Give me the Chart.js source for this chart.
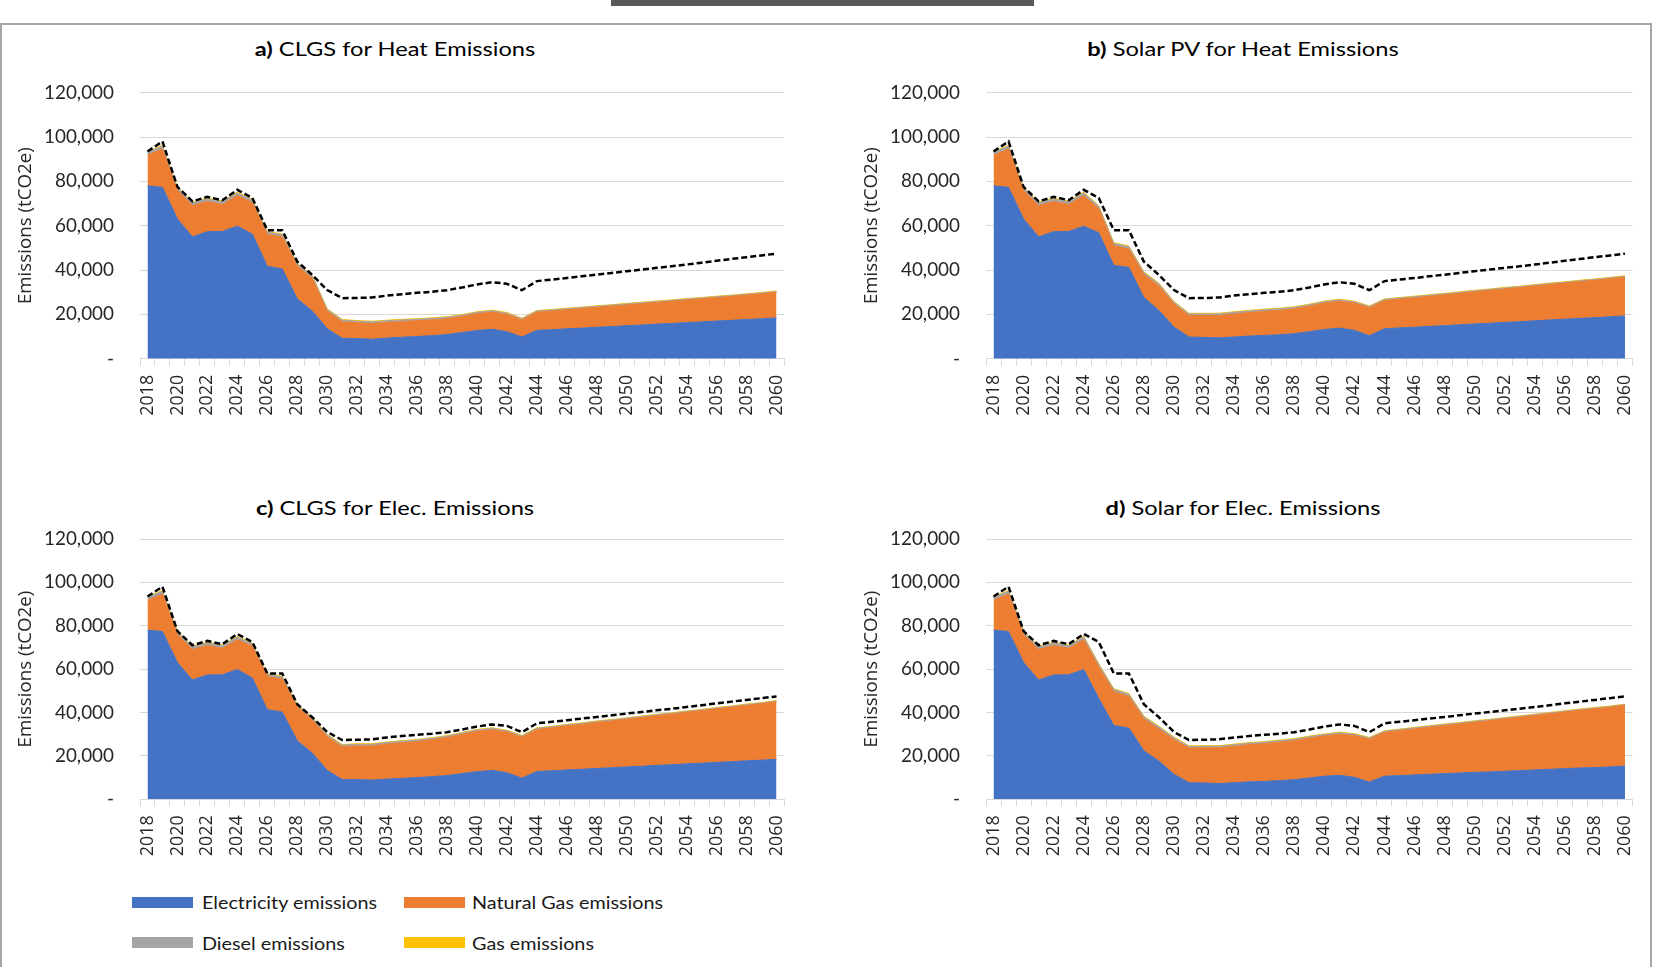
<!DOCTYPE html>
<html><head><meta charset="utf-8">
<script src="https://cdn.jsdelivr.net/npm/chart.js@4.4.1/dist/chart.umd.min.js"></script>
<style>
html,body{margin:0;padding:0;background:#fff;}
#page{position:relative;width:1658px;height:967px;overflow:hidden;background:#fff;}
#topbar{position:absolute;left:611px;top:0;width:423px;height:6px;background:#595959;}
#frame{position:absolute;left:0;top:23px;width:1648px;height:960px;border:2px solid #a6a6a6;border-bottom:none;}
canvas{position:absolute;}
.ttl{position:absolute;font-family:Lato,'Liberation Sans',sans-serif;font-size:19.5px;line-height:1;white-space:nowrap;color:#000;transform-origin:50% 50%;}
.ttl b{font-weight:700;}
.sw{position:absolute;width:61px;height:11.5px;}
.lt{position:absolute;font-family:Lato,'Liberation Sans',sans-serif;font-size:17px;line-height:1;white-space:nowrap;color:#1a1a1a;transform-origin:0 50%;}
</style></head>
<body>
<div id="page">
  <div id="topbar"></div>
  <div id="frame"></div>
  <div class="ttl" id="ta" data-cx="395" data-cy="48.6"><b>a)</b> CLGS for Heat Emissions</div>
  <div class="ttl" id="tb" data-cx="1242.5" data-cy="48.6"><b>b)</b> Solar PV for Heat Emissions</div>
  <div class="ttl" id="tc" data-cx="394.5" data-cy="507.5"><b>c)</b> CLGS for Elec. Emissions</div>
  <div class="ttl" id="td" data-cx="1243" data-cy="507.5"><b>d)</b> Solar for Elec. Emissions</div>
  <canvas id="ca" width="800" height="360" style="left:0;top:80px;width:800px;height:360px"></canvas>
  <canvas id="cb" width="800" height="360" style="left:846px;top:80px;width:800px;height:360px"></canvas>
  <canvas id="cc" width="800" height="360" style="left:0;top:526px;width:800px;height:360px"></canvas>
  <canvas id="cd" width="800" height="360" style="left:846px;top:526px;width:800px;height:360px"></canvas>
  <div id="legend"></div>
</div>
<script>
// ---------------- DATA ----------------
const years = ['2018','2019','2020','2021','2022','2023','2024','2025','2026','2027','2028','2029','2030','2031','2032','2033','2034','2035','2036','2037','2038','2039','2040','2041','2042','2043','2044','2045','2046','2047','2048','2049','2050','2051','2052','2053','2054','2055','2056','2057','2058','2059','2060'];
const yTickValues = [0, 20000, 40000, 60000, 80000, 100000, 120000];
const seriesNames = ['Electricity emissions', 'Natural Gas emissions', 'Diesel emissions', 'Gas emissions'];

// dashed reference line (same in all panels)
const baselineTotal = [93500,98000,77500,71000,73000,71500,76200, 72500,58000,58000,43800,37800,31000, 27300,27400,27600,28500,29100,29700,30200,30900,32100,33500,34500,33800,30900, 35000,35700,36400,37200,37900,38700,39500,40200,41000,41700,42500,43300,44200,45000,45800,46600,47400];

const dieselEmissions = [1300,1300,1200,1200,1200,1200,1200, 1100,1000,1000,900,900,800, 700,700,700,700,700,650,650,650,600,600,600,550,500, 500,480,460,450,440,430,420,410,400,390,380,370,360,350,340,330,320];
const gasEmissions = [350,350,350,350,350,350,350, 350,350,350,350,350,350, 300,300,300,300,300,300,300,300,300,300,300,300,300, 250,250,250,250,250,250,250,250,250,250,250,250,250,250,250,250,250];

// a) CLGS for Heat
const elecA = [78000,77300,63000,55000,57300,57400,59800, 56200,41700,40500,27000,21500,13500, 9200,9100,8800,9300,9700,10000,10400,10900,11800,12700,13300,12200,9800, 12800,13100,13500,13800,14200,14500,14900,15200,15600,15900,16300,16600,17000,17300,17700,18000,18400];
const ngA = [13800,17300,12900,14100,13600,12200,13800, 14200,14300,14500,14800,14800,7900, 7500,7100,7100,7100,7100,7100,7100,7100,7200,7600,7700,7800,7700, 8200,8400,8600,8800,9000,9200,9400,9600,9800,10000,10200,10400,10600,10800,11000,11300,11600];

// b) Solar PV for Heat
const elecB = [78000,77300,63000,55000,57300,57400,59800, 56800,42100,41200,27600,21800,14300, 9800,9600,9400,9800,10200,10500,10800,11300,12200,13200,13800,12800,10400, 13500,13900,14200,14600,14900,15300,15700,16000,16400,16700,17100,17500,17800,18200,18500,18900,19300];
const ngB = [13800,17300,12900,14100,13600,12200,13800, 10800,8900,8300,10400,11000,10400, 9700,9900,10100,10400,10600,10900,11000,11200,11500,11900,12100,12300,12600, 12700,13000,13300,13600,13900,14200,14500,14800,15100,15400,15700,16000,16300,16600,16900,17200,17500];

// c) CLGS for Elec.
const elecC = [78000,77300,63000,55000,57300,57400,59800, 55900,41300,40200,26900,21300,13300, 9100,9100,8800,9300,9600,10000,10400,10900,11800,12700,13300,12200,9700, 12800,13100,13500,13800,14200,14500,14900,15200,15600,15900,16300,16600,17000,17300,17700,18000,18400];
const ngC = [13800,17300,12900,14100,13600,12200,13800, 14600,15300,15200,15700,15300,15500, 15100,15500,15800,16100,16400,16600,17000,17500,18100,18600,18700,18800,18900, 19400,19800,20300,20700,21200,21600,22000,22500,22900,23300,23800,24200,24700,25100,25600,26000,26500];

// d) Solar for Elec.
const elecD = [78000,77300,63000,55000,57300,57400,59800, 46500,34000,32800,22300,17600,11500, 7600,7500,7200,7600,8000,8200,8600,9000,9800,10600,11000,10100,7900, 10600,10900,11200,11500,11800,12100,12400,12600,12900,13200,13500,13800,14100,14400,14600,14900,15300];
const ngD = [13800,17300,12900,14100,13600,12200,13800, 14500,15600,14600,14800,14800,16000, 16000,16200,16500,16800,17100,17400,17700,18000,18400,18600,19000,19300,19800, 20200,20700,21200,21700,22200,22600,23100,23600,24100,24600,25100,25600,26100,26600,27100,27500,28000];

const colors = ['#4472C4', '#ED7D31', '#A5A5A5', '#FFC000'];

// ---------------- FONT FITTING ----------------
const meas = document.createElement('canvas').getContext('2d');
function textW(text, font) { meas.font = font; return meas.measureText(text).width; }
function fitSize(text, family, weight, target) { return 100 * target / textW(text, `${weight} 100px ${family}`); }
const FAM_CAL = "Lato, 'Liberation Sans', sans-serif";
const FAM_SEG = "'Open Sans', 'DejaVu Sans', sans-serif";
const yTickSize = fitSize('120,000', FAM_CAL, 'normal', 70);
const xTickSize = fitSize('2018', FAM_SEG, 'normal', 41);
const yTitleSize = fitSize('Emissions (tCO2e)', FAM_SEG, 'normal', 157);
const yTitlePad = 25.7 - yTitleSize * 1.2 / 2;

// ---------------- CHARTS ----------------
function makeChart(id, elec, ng, pad, xH) {
  const stackVals = [elec, ng, dieselEmissions, gasEmissions];
  const datasets = stackVals.map((d, i) => ({
    label: seriesNames[i], data: d, stack: 'emis', order: 1,
    fill: i === 0 ? 'origin' : '-1',
    backgroundColor: colors[i], borderColor: colors[i], borderWidth: 1,
    pointRadius: 0, tension: 0
  }));
  datasets.push({
    label: 'Total', data: baselineTotal, stack: 'ref', order: 0, fill: false,
    borderColor: '#000000', borderWidth: 2.5, borderDash: [6, 3],
    pointRadius: 0, tension: 0
  });
  return new Chart(document.getElementById(id), {
    type: 'line',
    data: { labels: years, datasets },
    options: {
      responsive: false, animation: false, devicePixelRatio: 1,
      layout: { padding: { left: 0, right: pad.right, top: pad.top, bottom: 0 } },
      plugins: { legend: { display: false }, tooltip: { enabled: false }, title: { display: false } },
      scales: {
        x: {
          type: 'category', offset: true,
          grid: { display: true, drawOnChartArea: false, drawTicks: true, tickLength: 7, color: '#d9d9d9', offset: true, lineWidth: 1 },
          border: { display: true, color: '#d9d9d9', width: 1 },
          ticks: {
            autoSkip: false, maxRotation: 90, minRotation: 90, padding: 9,
            color: '#262626', font: { family: FAM_SEG, size: xTickSize },
            callback: (v, i) => (i % 2 === 0 ? years[i] : '')
          },
          afterFit: s => { s.height = xH; s.paddingLeft = 0; s.paddingRight = 0; }
        },
        y: {
          stacked: true, min: yTickValues[0], max: yTickValues[yTickValues.length - 1],
          afterBuildTicks: s => { s.ticks = yTickValues.map(v => ({ value: v })); },
          ticks: {
            padding: 26, color: '#262626', font: { family: FAM_CAL, size: yTickSize },
            callback: v => (v === 0 ? '-' : Number(v).toLocaleString('en-US'))
          },
          grid: { color: '#d9d9d9', drawTicks: false, lineWidth: 1 },
          border: { display: false },
          title: {
            display: true, text: 'Emissions (tCO2e)', color: '#262626',
            font: { family: FAM_SEG, size: yTitleSize, lineHeight: 1.2 },
            padding: { top: yTitlePad, bottom: 0 }
          },
          afterFit: s => { s.width = 140; s.paddingTop = 0; s.paddingBottom = 0; }
        }
      }
    }
  });
}

makeChart('ca', elecA, ngA, { top: 12.7, right: 16 }, 81.3);
makeChart('cb', elecB, ngB, { top: 12.7, right: 13.5 }, 81.3);
makeChart('cc', elecC, ngC, { top: 13, right: 16 }, 86.8);
makeChart('cd', elecD, ngD, { top: 13, right: 13.5 }, 86.8);

// ---------------- TITLES ----------------
const ta = document.getElementById('ta');
const titleK = 280 / ta.offsetWidth;
document.querySelectorAll('.ttl').forEach(el => {
  el.style.left = el.dataset.cx + 'px';
  el.style.top = el.dataset.cy + 'px';
  el.style.transform = `translate(-50%,-50%) scaleX(${titleK})`;
});

// ---------------- LEGEND ----------------
const legendPos = [
  { sx: 132, tx: 201.8, cy: 902.3 },
  { sx: 403.7, tx: 472, cy: 902.3 },
  { sx: 132, tx: 201.8, cy: 942.7 },
  { sx: 403.7, tx: 472, cy: 942.7 }
];
const legend = document.getElementById('legend');
let legK = 1;
seriesNames.forEach((name, i) => {
  const p = legendPos[i];
  const sw = document.createElement('div');
  sw.className = 'sw';
  sw.style.left = p.sx + 'px';
  sw.style.top = (p.cy - 5.75) + 'px';
  sw.style.background = colors[i];
  legend.appendChild(sw);
  const t = document.createElement('div');
  t.className = 'lt';
  t.textContent = name;
  t.style.left = p.tx + 'px';
  t.style.top = p.cy + 'px';
  legend.appendChild(t);
  if (i === 0) legK = 175.6 / t.offsetWidth;
});
document.querySelectorAll('.lt').forEach(el => { el.style.transform = `translateY(-50%) scaleX(${legK})`; });
</script>
</body></html>
